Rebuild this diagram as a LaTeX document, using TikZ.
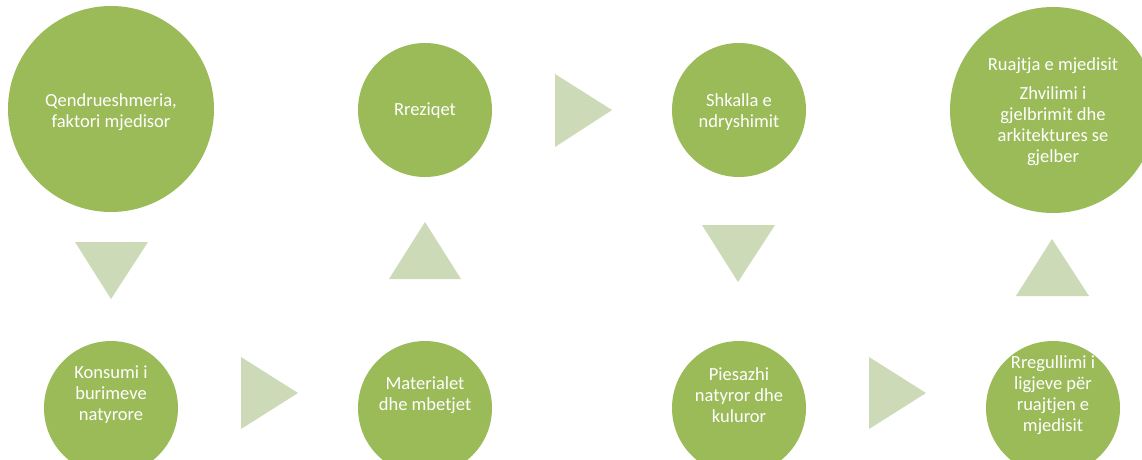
\documentclass[tikz,border=0pt]{standalone}
\usepackage{fontspec}
\setmainfont{Carlito}
\definecolor{circgreen}{HTML}{9BBB59}
\definecolor{arrowgreen}{HTML}{CDDAB7}
\begin{document}
\begin{tikzpicture}[x=1pt,y=-1pt,
  disc/.style={circle, fill=circgreen, draw=none, inner sep=0pt, minimum size=#1},
  lbl/.style={text=white, align=center, inner sep=0pt, font=\fontsize{18.5}{21}\selectfont},
  tri/.style={fill=arrowgreen, draw=none}]
\clip (0,0) rectangle (1142,459);
\fill[white] (0,0) rectangle (1142,459);
% top row
\node[disc=206pt] (c1) at (111,109) {};
\node[disc=134pt] (c2) at (425,110) {};
\node[disc=134pt] (c3) at (739,110) {};
\node[disc=206pt] (c4) at (1053,110) {};
% bottom row
\node[disc=134pt] (c5) at (111,408) {};
\node[disc=134pt] (c6) at (425,408) {};
\node[disc=134pt] (c7) at (739,408) {};
\node[disc=134pt] (c8) at (1053,408) {};
% labels
\node[lbl] (t1) at (111,112) {Qendrueshmeria,\\faktori mjedisor};
\node[lbl] (t2) at (425,111) {Rreziqet};
\node[lbl] (t3) at (739,112) {Shkalla e\\ndryshimit};
\node[lbl] (t4) at (1053,112) {Ruajtja e mjedisit\\[8pt]Zhvilimi i\\gjelbrimit dhe\\arkitektures se\\gjelber};
\node[lbl] (t5) at (111,395) {Konsumi i\\burimeve\\natyrore};
\node[lbl] (t6) at (425,395) {Materialet\\dhe mbetjet};
\node[lbl] (t7) at (739,395) {Piesazhi\\natyror dhe\\kuluror};
\node[lbl] (t8) at (1053,395) {Rregullimi i\\ligjeve për\\ruajtjen e\\mjedisit};
% arrow triangles
\coordinate (a1) at (111,242);
\fill[tri] (75,242) -- (148,242) -- (111,299) -- cycle;
\fill[tri] (389,279) -- (461,279) -- (425,222) -- cycle;
\fill[tri] (555,74) -- (555,147) -- (612,110) -- cycle;
\fill[tri] (702,225) -- (775,225) -- (738,282) -- cycle;
\fill[tri] (1016,296) -- (1089,296) -- (1052,239) -- cycle;
\fill[tri] (241,357) -- (241,429) -- (298,393) -- cycle;
\fill[tri] (869,357) -- (869,429) -- (926,393) -- cycle;
\end{tikzpicture}
\end{document}
